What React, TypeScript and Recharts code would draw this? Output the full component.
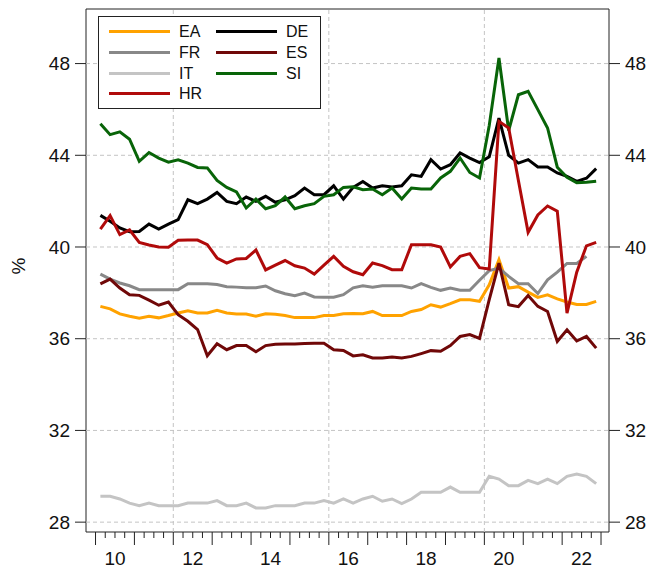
import {
  Legend,
  Line,
  LineChart,
  ReferenceArea,
  ReferenceLine,
  XAxis,
  YAxis,
} from 'recharts'

const FONT = '"Liberation Sans", Arial, sans-serif'
const AXIS_FONT_SIZE = 19

const YEARS = [2010, 2011, 2012, 2013, 2014, 2015, 2016, 2017, 2018, 2019, 2020, 2021, 2022]
const QUARTERS = [1, 2, 3, 4]
const LABEL_YEARS = [2010, 2012, 2014, 2016, 2018, 2020, 2022]
const GRID_YEARS = [2012, 2016, 2020]
const Y_TICKS = [28, 32, 36, 40, 44, 48]

// quarterly shares, 2010Q1 .. 2022Q4
const EA = [
  37.41, 37.30, 37.08, 36.98, 36.89, 36.98, 36.91, 37.01, 37.12, 37.22, 37.12, 37.12, 37.24,
  37.12, 37.08, 37.08, 36.98, 37.09, 37.07, 37.01, 36.92, 36.92, 36.92, 37.01, 37.01, 37.09,
  37.10, 37.09, 37.19, 37.01, 37.01, 37.01, 37.19, 37.27, 37.48, 37.38, 37.53, 37.70, 37.70,
  37.63, 38.35, 39.45, 38.21, 38.27, 38.03, 37.80, 37.91, 37.74, 37.60, 37.49, 37.49, 37.63,
]
const DE = [
  41.38, 41.12, 40.83, 40.67, 40.68, 41.00, 40.78, 41.00, 41.19, 42.06, 41.89, 42.09, 42.38,
  41.99, 41.89, 42.18, 41.99, 42.21, 41.95, 42.06, 42.24, 42.57, 42.28, 42.28, 42.67, 42.09,
  42.60, 42.86, 42.57, 42.67, 42.62, 42.67, 43.15, 43.08, 43.81, 43.40, 43.59, 44.10, 43.88,
  43.68, 43.93, 45.62, 44.00, 43.66, 43.81, 43.49, 43.49, 43.23, 43.08, 42.86, 43.00, 43.42,
]
const FR = [
  38.82, 38.60, 38.43, 38.31, 38.14, 38.14, 38.14, 38.14, 38.14, 38.40, 38.40, 38.40, 38.36,
  38.27, 38.25, 38.22, 38.22, 38.30, 38.09, 37.96, 37.88, 37.99, 37.82, 37.81, 37.81, 37.92,
  38.22, 38.31, 38.25, 38.31, 38.31, 38.31, 38.21, 38.40, 38.24, 38.11, 38.21, 38.11, 38.11,
  38.55, 38.97, 39.08, 38.72, 38.40, 38.40, 37.97, 38.57, 38.90, 39.28, 39.28, 39.59, null,
]
const ES = [
  38.39, 38.60, 38.21, 37.92, 37.89, 37.68, 37.46, 37.60, 37.05, 36.76, 36.40, 35.26, 35.78,
  35.52, 35.70, 35.70, 35.43, 35.70, 35.76, 35.77, 35.77, 35.79, 35.80, 35.80, 35.52, 35.49,
  35.25, 35.30, 35.16, 35.16, 35.20, 35.16, 35.23, 35.35, 35.48, 35.45, 35.70, 36.10, 36.18,
  36.01, 37.70, 39.30, 37.48, 37.40, 37.88, 37.41, 37.19, 35.88, 36.39, 35.90, 36.10, 35.59,
]
const IT = [
  29.13, 29.13, 29.01, 28.83, 28.72, 28.83, 28.72, 28.72, 28.72, 28.83, 28.83, 28.83, 28.94,
  28.72, 28.72, 28.83, 28.62, 28.62, 28.72, 28.72, 28.72, 28.83, 28.83, 28.94, 28.83, 29.01,
  28.83, 29.01, 29.13, 28.91, 29.01, 28.81, 29.01, 29.30, 29.30, 29.30, 29.53, 29.30, 29.30,
  29.30, 30.00, 29.88, 29.59, 29.59, 29.82, 29.68, 29.88, 29.68, 30.00, 30.10, 30.00, 29.68,
]
const SI = [
  45.38, 44.90, 45.02, 44.70, 43.74, 44.12, 43.88, 43.70, 43.80, 43.66, 43.47, 43.45, 42.90,
  42.60, 42.40, 41.70, 42.09, 41.67, 41.80, 42.18, 41.67, 41.80, 41.89, 42.21, 42.28, 42.60,
  42.63, 42.50, 42.53, 42.28, 42.57, 42.09, 42.57, 42.53, 42.53, 43.01, 43.30, 43.88, 43.25,
  43.01, 45.30, 48.24, 45.08, 46.64, 46.79, 45.99, 45.19, 43.48, 43.04, 42.80, 42.82, 42.87,
]
const HR = [
  40.78, 41.37, 40.54, 40.75, 40.20, 40.09, 40.00, 39.99, 40.29, 40.30, 40.30, 40.10, 39.52,
  39.30, 39.48, 39.50, 39.87, 39.00, 39.21, 39.41, 39.18, 39.08, 38.82, 39.21, 39.59, 39.16,
  38.92, 38.79, 39.30, 39.19, 39.01, 39.01, 40.10, 40.10, 40.10, 40.00, 39.13, 39.59, 39.71,
  39.10, 39.04, 45.48, 45.19, 42.90, 40.64, 41.40, 41.79, 41.56, 37.12, 38.90, 40.05, 40.20,
]

const SERIES: Record<string, (number | null)[]> = { EA, DE, FR, ES, IT, SI, HR }
// draw order = legend order (row by row)
const ORDER = ['EA', 'DE', 'FR', 'ES', 'IT', 'SI', 'HR']
const COLORS: Record<string, string> = {
  EA: '#FFA200',
  DE: '#000000',
  FR: '#888888',
  ES: '#700808',
  IT: '#C4C4C4',
  SI: '#086408',
  HR: '#B00A0A',
}

const X_MIN = 2009.755
const X_MAX = 2023.205
const Y_MIN = 27.57
const Y_MAX = 50.38

const PERIODS = YEARS.flatMap(y => QUARTERS.map(q => ({ year: y, q })))
const data = PERIODS.map((p, i) => {
  const row: Record<string, number | null> = { t: p.year + (p.q - 0.5) / 4 }
  for (const k of ORDER) row[k] = SERIES[k][i]
  return row
})

const X_TICKS = [...YEARS.flatMap(y => QUARTERS.map(q => y + (q - 1) / 4)), YEARS[YEARS.length - 1] + 1]

function QuarterTick(props: { x: number; y: number; payload: { value: number } }) {
  const { x, y, payload } = props
  const v = payload.value
  const yr = Math.floor(v + 1e-9)
  const isYear = Math.abs(v - yr) < 1e-6
  const showLabel = Math.abs(v - yr - 0.5) < 1e-6 && LABEL_YEARS.includes(yr)
  return (
    <g>
      <line x1={x} x2={x} y1={y} y2={y + (isYear ? 13 : 6)} stroke="#222" strokeWidth={1} />
      {showLabel && (
        <text x={x} y={y + 33} textAnchor="middle" fontSize={AXIS_FONT_SIZE} fontFamily={FONT} fill="#111">
          {String(yr).slice(2)}
        </text>
      )}
    </g>
  )
}

function PercentLabel() {
  return (
    <text
      x={25}
      y={266}
      transform="rotate(-90 25 266)"
      textAnchor="middle"
      fontSize={AXIS_FONT_SIZE}
      fontFamily={FONT}
      fill="#111"
    >
      %
    </text>
  )
}

function LegendBox() {
  return (
    <div
      style={{
        width: 223,
        height: 93,
        border: '1px solid #222',
        background: '#fff',
        boxSizing: 'border-box',
        position: 'relative',
        fontFamily: FONT,
        fontSize: 16,
        color: '#111',
      }}
    >
      {ORDER.map((k, i) => {
        const col = i % 2
        const row = Math.floor(i / 2)
        return (
          <div
            key={k}
            style={{
              position: 'absolute',
              left: 10 + col * 107,
              top: 4 + row * 20.75,
              height: 21,
              display: 'flex',
              alignItems: 'center',
              whiteSpace: 'nowrap',
            }}
          >
            <span style={{ display: 'inline-block', width: 61, height: 3, background: COLORS[k] }} />
            <span style={{ marginLeft: 9, lineHeight: '21px' }}>{k}</span>
          </div>
        )
      })}
    </div>
  )
}

export default function App() {
  const tickStyle = { fill: '#111', fontSize: AXIS_FONT_SIZE, fontFamily: FONT }
  return (
    <div style={{ position: 'absolute', left: 0, top: 0, background: '#fff' }}>
      <LineChart width={656} height={572} data={data} margin={{ top: 9, right: 0, bottom: 0, left: 0 }}>
        <XAxis
          dataKey="t"
          type="number"
          domain={[X_MIN, X_MAX]}
          allowDataOverflow
          ticks={X_TICKS}
          interval={0}
          height={40}
          tickSize={0}
          tickMargin={0}
          tickLine={false}
          axisLine={false}
          tick={QuarterTick as any}
        />
        <YAxis
          yAxisId="l"
          type="number"
          domain={[Y_MIN, Y_MAX]}
          allowDataOverflow
          ticks={Y_TICKS}
          interval={0}
          width={86}
          tickSize={11}
          tickMargin={5}
          axisLine={false}
          tickLine={{ stroke: '#222' }}
          tick={tickStyle}
          label={PercentLabel as any}
        />
        <YAxis
          yAxisId="r"
          orientation="right"
          type="number"
          domain={[Y_MIN, Y_MAX]}
          allowDataOverflow
          ticks={Y_TICKS}
          interval={0}
          width={47}
          tickSize={11}
          tickMargin={5}
          axisLine={false}
          tickLine={{ stroke: '#222' }}
          tick={tickStyle}
        />
        {Y_TICKS.map(v => (
          <ReferenceLine key={'h' + v} yAxisId="l" y={v} stroke="#c4c4c4" strokeDasharray="4 3" />
        ))}
        {GRID_YEARS.map(v => (
          <ReferenceLine key={'v' + v} yAxisId="l" x={v} stroke="#c4c4c4" strokeDasharray="4 3" />
        ))}
        {ORDER.map(k => (
          <Line
            key={k}
            yAxisId="l"
            dataKey={k}
            name={k}
            stroke={COLORS[k]}
            strokeWidth={3}
            dot={false}
            activeDot={false}
            isAnimationActive={false}
          />
        ))}
        <ReferenceArea
          yAxisId="l"
          x1={X_MIN}
          x2={X_MAX}
          y1={Y_MIN}
          y2={Y_MAX}
          fill="none"
          fillOpacity={0}
          stroke="#222"
          strokeWidth={1}
        />
        <Legend
          layout="horizontal"
          verticalAlign="middle"
          align="center"
          content={LegendBox}
          wrapperStyle={{ position: 'absolute', left: 98, top: 16, width: 223, height: 93 }}
        />
      </LineChart>
    </div>
  )
}
